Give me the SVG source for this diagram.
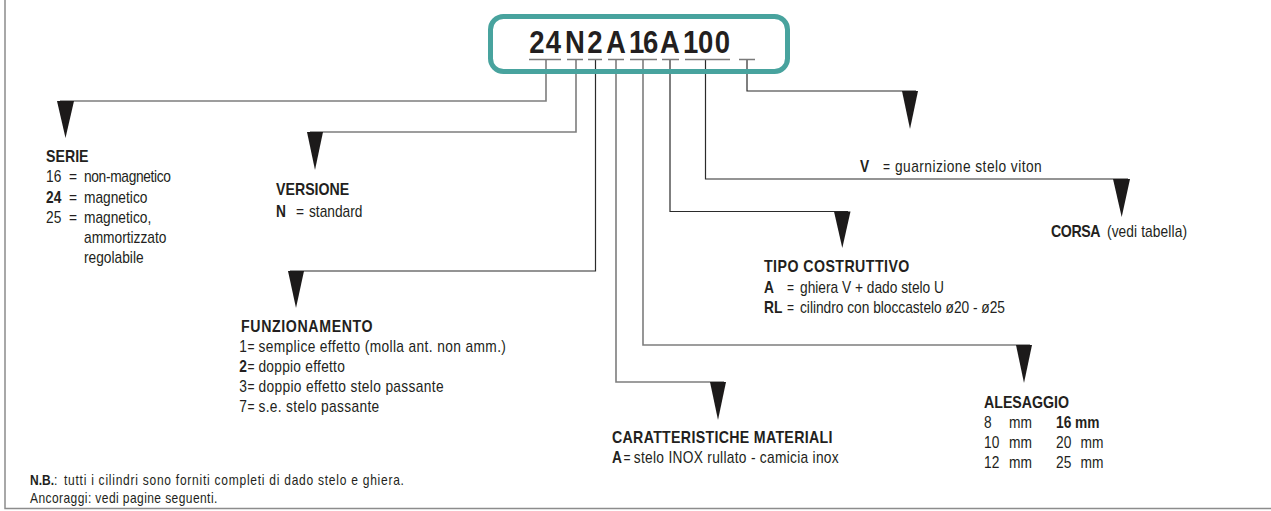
<svg xmlns="http://www.w3.org/2000/svg" width="1271" height="511" viewBox="0 0 1271 511">
<style>
text{font-family:"Liberation Sans",Arial,sans-serif;fill:#231f20;font-size:16px}
.h{font-weight:bold;font-size:16.5px}
.b{font-weight:bold}
.eq{font-size:14px}
.s{font-size:14px}
.code{font-weight:bold;font-size:32px;text-anchor:middle}
.c1{fill:none;stroke:#7d7d7d;stroke-width:1.6}
.c2{fill:none;stroke:#2b2b2b;stroke-width:1.2}
.ul{fill:none;stroke:#7a7a7a;stroke-width:1.5}
.tri{fill:#1c1a1a}
.frame{fill:none;stroke:#8c8c8c;stroke-width:1.5}
</style>
<rect width="1271" height="511" fill="#ffffff"/>
<path class="frame" d="M5 0 V508.5 H1271"/>
<g id="connectors">
<path class="c1" d="M546 59 V101 H60"/>
<path class="c1" d="M576 59 V132 H310"/>
<path class="c2" d="M595.5 59 V271 H290"/>
<path class="c1" d="M616 59 V382 H724"/>
<path class="c1" d="M643 59 V345 H1030"/>
<path class="c2" d="M670 59 V211.5 H848"/>
<path class="c2" d="M705.5 59 V179 H1128"/>
<path class="c2" d="M747 59 V91 H916"/>
<polygon class="tri" points="57,101 74,101 65.5,138"/>
<polygon class="tri" points="307,132 323,132 315,170"/>
<polygon class="tri" points="288,271 304,271 296,308"/>
<polygon class="tri" points="710,382 726,382 718,420"/>
<polygon class="tri" points="1016,345 1032,345 1024,383"/>
<polygon class="tri" points="834,211.5 850.5,211.5 842.3,248"/>
<polygon class="tri" points="1113,179 1130,179 1121.7,217"/>
<polygon class="tri" points="902,91 918,91 910,129"/>
</g>
<g id="code">
<path class="ul" d="M529 59.5 H561 M567 59.5 H583 M588 59.5 H602 M608 59.5 H624 M630 59.5 H657 M662 59.5 H679 M685 59.5 H730 M739 59.5 H755"/>
<rect x="490.5" y="16.5" width="297" height="55" rx="13" fill="none" stroke="#48a39e" stroke-width="5"/>
<text class="code" transform="scale(0.86,1)" x="624.42 643.60 668.60 691.86 716.28 740.35 756.63 779.07 803.14 820.58 839.88" y="53">24N2A16A100</text>
</g>
<g transform="scale(0.86,1)">
<g id="serie">
<text class="h" x="53.49" y="162">SERIE</text>
<text y="182.3"><tspan x="53.49">16</tspan><tspan x="80.23">=</tspan><tspan x="97.67" textLength="101.2" lengthAdjust="spacing">non-magnetico</tspan></text>
<text y="202.7"><tspan x="53.49" class="b">24</tspan><tspan x="80.23">=</tspan><tspan x="97.67">magnetico</tspan></text>
<text y="222.7"><tspan x="53.49">25</tspan><tspan x="80.23">=</tspan><tspan x="97.67">magnetico,</tspan></text>
<text x="97.67" y="242.7">ammortizzato</text>
<text x="97.67" y="262.7">regolabile</text>
</g>
<g id="versione">
<text class="h" x="320.93" y="195">VERSIONE</text>
<text y="217"><tspan x="320.93" class="b">N</tspan><tspan x="344.19">=</tspan><tspan x="359.30">standard</tspan></text>
</g>
<g id="funzionamento">
<text class="h" x="280.23" y="332" textLength="153.1" lengthAdjust="spacing">FUNZIONAMENTO</text>
<text y="352"><tspan x="278.3">1</tspan><tspan x="287.8" class="eq">=</tspan><tspan x="300.5" textLength="287.8" lengthAdjust="spacing">semplice effetto (molla ant. non amm.)</tspan></text>
<text y="372"><tspan x="278.3" class="b">2</tspan><tspan x="287.8" class="eq">=</tspan><tspan x="300.5" letter-spacing="0.3">doppio effetto</tspan></text>
<text y="392"><tspan x="278.3">3</tspan><tspan x="287.8" class="eq">=</tspan><tspan x="300.5" letter-spacing="0.4">doppio effetto stelo passante</tspan></text>
<text y="412"><tspan x="278.3">7</tspan><tspan x="287.8" class="eq">=</tspan><tspan x="300.5" letter-spacing="0.4">s.e. stelo passante</tspan></text>
</g>
<g id="materiali">
<text class="h" x="711.63" y="443.5" textLength="256.3" lengthAdjust="spacing">CARATTERISTICHE MATERIALI</text>
<text y="463"><tspan x="711.63" class="b">A</tspan><tspan x="725" class="eq">=</tspan><tspan x="737" textLength="238.2" lengthAdjust="spacing">stelo INOX rullato - camicia inox</tspan></text>
</g>
<g id="alesaggio">
<text class="h" x="1144.19" y="408">ALESAGGIO</text>
<text y="428.3"><tspan x="1144.19">8</tspan><tspan x="1173.26">mm</tspan><tspan x="1227.91" class="b">16 mm</tspan></text>
<text y="448.3"><tspan x="1144.19">10</tspan><tspan x="1173.26">mm</tspan><tspan x="1227.91">20</tspan><tspan x="1256.40">mm</tspan></text>
<text y="468.3"><tspan x="1144.19">12</tspan><tspan x="1173.26">mm</tspan><tspan x="1227.91">25</tspan><tspan x="1256.40">mm</tspan></text>
</g>
<g id="tipo">
<text class="h" x="888.37" y="272" textLength="169" lengthAdjust="spacing">TIPO COSTRUTTIVO</text>
<text y="293.3"><tspan x="888.37" class="b">A</tspan><tspan x="915.12" class="eq">=</tspan><tspan x="930.23" textLength="167.4" lengthAdjust="spacing">ghiera V + dado stelo U</tspan></text>
<text y="313.3"><tspan x="888.37" class="b">RL</tspan><tspan x="915.12" class="eq">=</tspan><tspan x="930.23" textLength="238.4" lengthAdjust="spacing">cilindro con bloccastelo ø20 - ø25</tspan></text>
</g>
<g id="corsa">
<text y="237"><tspan x="1222.1" class="h" textLength="57.5" lengthAdjust="spacing">CORSA</tspan><tspan x="1287.2" textLength="93" lengthAdjust="spacing">(vedi tabella)</tspan></text>
</g>
<g id="viton">
<text y="172"><tspan x="1000" class="b">V</tspan><tspan x="1026.74" class="eq">=</tspan><tspan x="1040.70" textLength="170.6" lengthAdjust="spacing">guarnizione stelo viton</tspan></text>
</g>
<g id="note">
<text class="s" y="485.5"><tspan x="34.88" class="b">N.B.</tspan><tspan>:</tspan><tspan x="74.42" textLength="395.3" lengthAdjust="spacing">tutti i cilindri sono forniti completi di dado stelo e ghiera.</tspan></text>
<text class="s" x="34.88" y="503.5" textLength="217.8" lengthAdjust="spacing">Ancoraggi: vedi pagine seguenti.</text>
</g>
</g>
</svg>
